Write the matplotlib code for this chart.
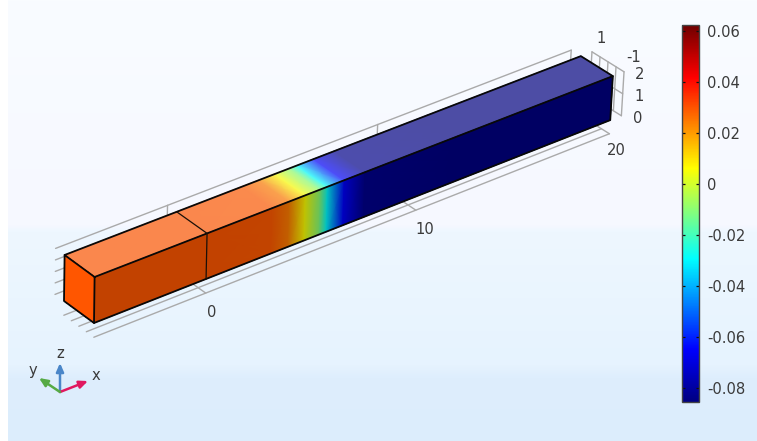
import matplotlib
matplotlib.use('Agg')
import matplotlib.pyplot as plt
import numpy as np
from matplotlib.colors import LinearSegmentedColormap, ListedColormap, Normalize
from matplotlib.cm import ScalarMappable

# solution along the beam
beam_x = [-5, 0, 3.0, 3.8, 4.55, 5.26, 5.6, 6.4, 7.4, 12, 20]
beam_u = [0.0295, 0.0295, 0.029, 0.024, 0.006, -0.011, -0.029, -0.065, -0.083, -0.085, -0.085]

vmin, vmax = -0.0855, 0.0623
cbar_ticks = [0.06, 0.04, 0.02, 0, -0.02, -0.04, -0.06, -0.08]
cbar_labels = ['0.06', '0.04', '0.02', '0', '-0.02', '-0.04', '-0.06', '-0.08']

x_ticks = [0, 10, 20]
y_ticks = [1, -1]
z_ticks = [0, 1, 2]
floor_y = [-1, -0.5, 0, 0.5, 1]
wall_z = [0, 0.5, 1, 1.5, 2]

# background bands: pixel row, colour
bg_rows = [0, 225, 232, 365, 378, 441]
bg_cols = ['#f9fcff', '#f6f8ff', '#eef7ff', '#e6f3fe', '#deeefd', '#dcedfc']

GREY = '#aaaaaa'
TXT = '#3a3a3a'
FS = 10.6

base = LinearSegmentedColormap.from_list('rainbow_c', [
    (0.0, '#000080'), (0.14, '#0000ff'), (0.38, '#00ffff'), (0.50, '#80ff80'),
    (0.62, '#ffff00'), (0.86, '#ff0000'), (1.0, '#6f0000')], N=512)
rgb = base(np.arange(512))[:, :3]
cmap_top = ListedColormap(np.clip(rgb * 0.68 + 0.30, 0, 1))
cmap_side = ListedColormap(rgb * 0.76)
norm = Normalize(vmin, vmax)


def project(x, y, z):
    """Axonometric view with a mild perspective, returns pixel coordinates."""
    x, y, z = np.asarray(x, float), np.asarray(y, float), np.asarray(z, float)
    X = x + 5
    f = X / 25
    vx, vy = -15.0 - 1.0 * f, -11.0 + 1.0 * f
    wx, wy = 0.3 + 1.0 * f, -23.0 + 1.0 * f
    d = 1 + 0.00436 * X
    px = 94 + 22.9 * X / d + (y + 1) * vx + z * wx
    py = 323 - 9.0 * X / d + (y + 1) * vy + z * wy
    return px, py


def line3d(ax, xs, ys, zs, **kw):
    px, py = project(xs, ys, zs)
    ax.plot(px, py, solid_capstyle='round', **kw)


fig = plt.figure(figsize=(7.57, 4.41), dpi=100)
fig.patch.set_facecolor('white')
ax = fig.add_axes([0, 0, 1, 1])
ax.set_xlim(0, 757)
ax.set_ylim(441, 0)
ax.axis('off')

# background
bg = LinearSegmentedColormap.from_list('bg', [(r / 441, c) for r, c in zip(bg_rows, bg_cols)], N=441)
ax.imshow(np.linspace(0, 1, 441)[:, None], cmap=bg, extent=(8, 757, 441, 0), aspect='auto', zorder=0)
ax.set_xlim(0, 757)
ax.set_ylim(441, 0)

# floor grid
zf = -0.62
for yy in floor_y:
    line3d(ax, [-5, 20], [yy, yy], [zf, zf], color=GREY, lw=1, zorder=1)
for xx in x_ticks:
    line3d(ax, [xx, xx], [-1, 0], [zf, zf], color=GREY, lw=1, zorder=1)

# back wall grid
yw = 1.6
for zz in wall_z:
    line3d(ax, [-5, 20], [yw, yw], [zz, zz], color=GREY, lw=1, zorder=1)
for xx in x_ticks:
    line3d(ax, [xx, xx], [yw, yw], [0, 2], color=GREY, lw=1, zorder=1)

# end wall grid
xw = 20.6
for yy in floor_y:
    line3d(ax, [xw, xw], [yy, yy], [0, 2], color=GREY, lw=1, zorder=1)
for zz in z_ticks:
    line3d(ax, [xw, xw], [-1, 1], [zz, zz], color=GREY, lw=1, zorder=1)

# beam faces
bx = np.array(beam_x, float)
bu = np.array(beam_u, float)
s = np.array([0.0, 1.0])

# top face
gx, gs = np.meshgrid(bx, s)
px, py = project(gx, -1 + 2 * gs, np.full_like(gx, 2.0))
ax.pcolormesh(px, py, np.tile(bu, (2, 1)), cmap=cmap_top, norm=norm, shading='gouraud', zorder=2)

# front side face (y = -1)
px, py = project(gx, np.full_like(gx, -1.0), 2 * gs)
ax.pcolormesh(px, py, np.tile(bu, (2, 1)), cmap=cmap_side, norm=norm, shading='gouraud', zorder=2)

# end face at x = -5
ey = np.array([-1.0, 1.0])
ex, ez = np.meshgrid(ey, s)
px, py = project(np.full_like(ex, -5.0), ex, 2 * ez)
ax.pcolormesh(px, py, np.full((1, 1), beam_u[0]), cmap=base, norm=norm, shading='flat', zorder=2)

# beam edges
edge = dict(color='#080808', lw=1.3, zorder=3)
line3d(ax, [-5, 20, 20, -5, -5], [-1, -1, -1, -1, -1], [2, 2, 0, 0, 2], **edge)
line3d(ax, [-5, 20, 20], [1, 1, -1], [2, 2, 2], **edge)
line3d(ax, [-5, -5, -5, -5], [-1, 1, 1, -1], [2, 2, 0, 0], **edge)
line3d(ax, [0, 0, 0], [1, -1, -1], [2, 2, 0], color='#1a1008', lw=0.9, zorder=3)

# axis labels
for xx, (ox, oy) in zip(x_ticks, [(6, 19), (9, 19), (7, 17)]):
    px, py = project(xx, -1, zf)
    ax.text(px + ox, py + oy, str(xx), ha='center', va='center', fontsize=FS, color=TXT, zorder=4)
for yy, (ox, oy) in zip(y_ticks, [(9, -13), (10, -14)]):
    px, py = project(xw, yy, 2)
    ax.text(px + ox, py + oy, str(yy), ha='center', va='center', fontsize=FS, color=TXT, zorder=4)
for zz in z_ticks:
    px, py = project(xw, -1, zz)
    ax.text(px + 16, py + 3, str(zz), ha='center', va='center', fontsize=FS, color=TXT, zorder=4)

# orientation triad
ox, oy = 60, 392
for tip, col in [((60, 363), '#4a86c8'), ((88, 381), '#e0185f'), ((39, 378), '#55aa44')]:
    ax.annotate('', xy=tip, xytext=(ox, oy), zorder=4,
                arrowprops=dict(arrowstyle='-|>,head_length=0.5,head_width=0.22', color=col, lw=1.8,
                                shrinkA=0, shrinkB=0))
ax.text(60, 353, 'z', ha='center', va='center', fontsize=FS, color=TXT)
ax.text(96, 376, 'x', ha='center', va='center', fontsize=FS, color=TXT)
ax.text(33, 371, 'y', ha='center', va='center', fontsize=FS, color=TXT)

# colour legend
cax = fig.add_axes([682 / 757, 1 - 402 / 441, 17 / 757, 377 / 441])
cb = fig.colorbar(ScalarMappable(norm=norm, cmap=base), cax=cax)
cb.set_ticks(cbar_ticks)
cb.set_ticklabels(cbar_labels)
cb.outline.set_edgecolor('#444444')
cb.outline.set_linewidth(1)
cax.tick_params(axis='y', direction='in', left=True, right=True, length=2.5, width=0.9, color='#111111',
                labelcolor=TXT, labelsize=FS, pad=6)

fig.savefig('out.png', dpi=100)
